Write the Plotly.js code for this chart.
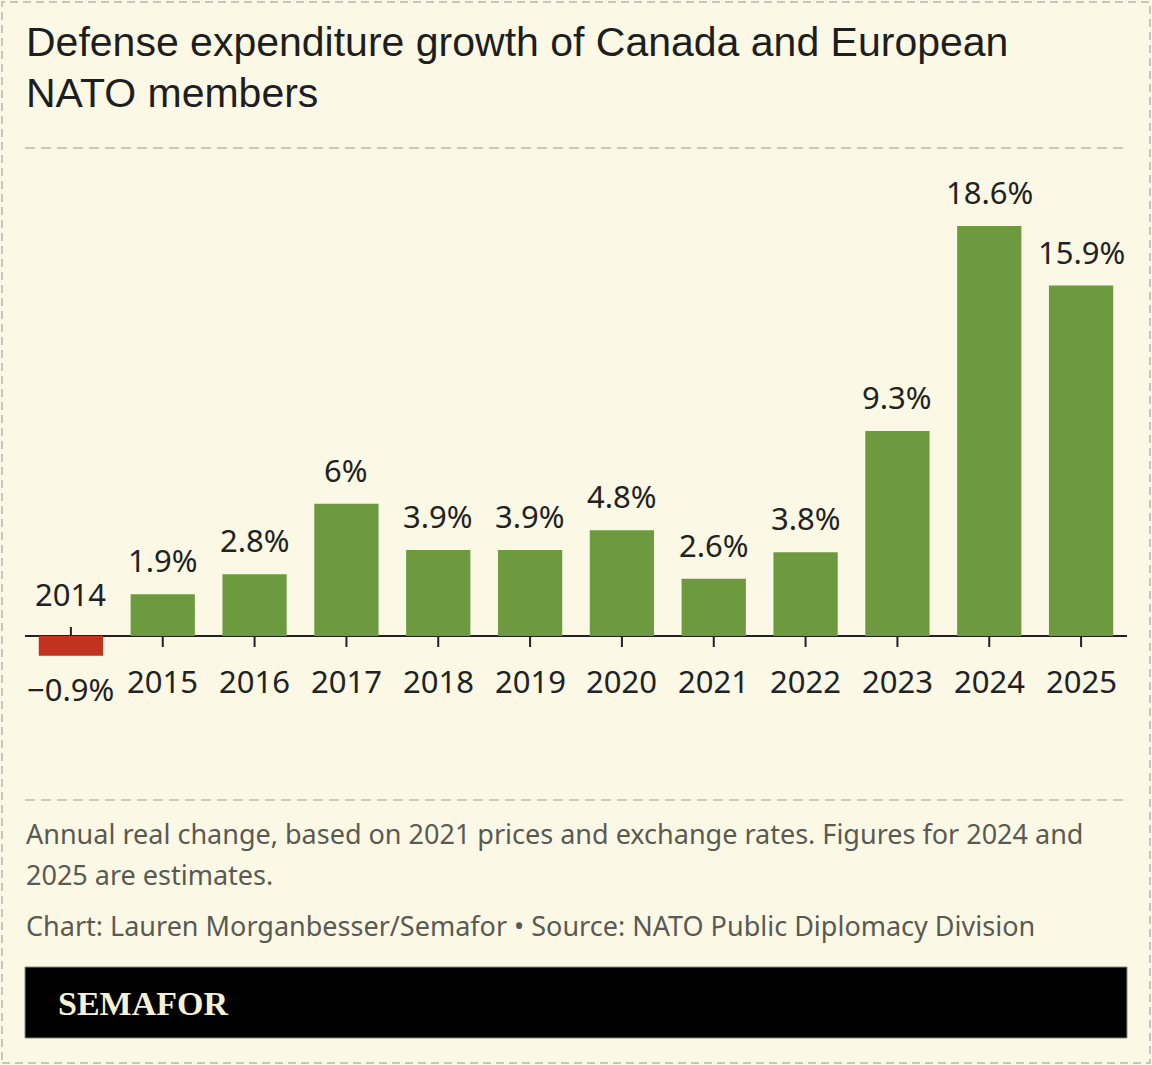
<!DOCTYPE html>
<html>
<head>
<meta charset="utf-8">
<script src="https://cdn.plot.ly/plotly-3.0.1.min.js"></script>
<style>
  html, body { margin: 0; padding: 0; background: #FBF9E6; }
  #chart { width: 1152px; height: 1065px; }
</style>
</head>
<body>
<div id="chart"></div>
<script>
// Annual real change in defense spending, Canada + European NATO members (%)
const years = ['2014', '2015', '2016', '2017', '2018', '2019', '2020', '2021', '2022', '2023', '2024', '2025'];
const growth = [-0.9, 1.9, 2.8, 6, 3.9, 3.9, 4.8, 2.6, 3.8, 9.3, 18.6, 15.9];

const titleLines = ['Defense expenditure growth of Canada and European', 'NATO members'];
const noteLines = [
  'Annual real change, based on 2021 prices and exchange rates. Figures for 2024 and',
  '2025 are estimates.',
  'Chart: Lauren Morganbesser/Semafor \u2022 Source: NATO Public Diplomacy Division'
];
const brand = 'SEMAFOR';

// Page geometry (pixels) and helpers to place paper-referenced items
const W = 1152, H = 1065;
const M = { l: 25, r: 25, t: 160, b: 365 };
const plotW = W - M.l - M.r, plotH = H - M.t - M.b;
const px = x => (x - M.l) / plotW;
const py = y => (H - M.b - y) / plotH;

const GREEN = '#6E9A3F', RED = '#C1331F', INK = '#222222', GREY = '#5A5A52';
const BODY = 'Noto Sans, sans-serif';

const fmt = v => (v < 0 ? '\u2212' : '') + Math.abs(v) + '%';

const bars = {
  type: 'bar',
  x: years,
  y: growth,
  marker: { color: growth.map(v => v < 0 ? RED : GREEN), line: { width: 0 } },
  hoverinfo: 'skip'
};

// Category positions are referenced by index (year names look numeric)
const annotations = [];
years.forEach((yr, i) => {
  const v = growth[i];
  // Value label just beyond the bar's end
  annotations.push({
    x: i, y: v, xref: 'x', yref: 'y', text: fmt(v), showarrow: false,
    xanchor: 'center', yanchor: 'middle', yshift: v < 0 ? -33 : 34,
    font: { family: BODY, size: 31, color: INK }
  });
  // Year label on the opposite side of the zero line from the bar
  annotations.push({
    x: i, y: 0, xref: 'x', yref: 'y', text: yr, showarrow: false,
    xanchor: 'center', yanchor: 'middle', yshift: v < 0 ? 42 : -45,
    font: { family: BODY, size: 31, color: INK }
  });
});

// Headline
titleLines.forEach((t, i) => {
  annotations.push({
    x: px(24), y: py(i === 0 ? 42 : 93), xref: 'paper', yref: 'paper', text: t,
    showarrow: false, xanchor: 'left', yanchor: 'middle',
    font: { family: 'Liberation Sans, Arial, sans-serif', size: 41, color: '#1E1E1E' }
  });
});

// Notes and credit
const noteY = [833, 874, 925];
noteLines.forEach((t, i) => {
  annotations.push({
    x: px(24), y: py(noteY[i]), xref: 'paper', yref: 'paper', text: t,
    showarrow: false, xanchor: 'left', yanchor: 'middle',
    font: { family: BODY, size: 27, color: GREY }
  });
});

// Brand bar text
annotations.push({
  x: px(56), y: py(1003), xref: 'paper', yref: 'paper', text: '<b>' + brand + '</b>',
  showarrow: false, xanchor: 'left', yanchor: 'middle',
  font: { family: 'Liberation Serif, DejaVu Serif, serif', size: 34, color: '#F6F0D6' }
});

const shapes = [];
// Tick marks at each category, pointing away from the bar
years.forEach((yr, i) => {
  shapes.push({
    type: 'line', xref: 'x', yref: 'y', ysizemode: 'pixel', yanchor: 0,
    x0: i, x1: i, y0: 0, y1: growth[i] < 0 ? 9 : -11,
    line: { color: INK, width: 2 }
  });
});
// Dashed separators
[148, 800].forEach(y => {
  shapes.push({
    type: 'line', xref: 'paper', yref: 'paper',
    x0: px(25), x1: px(1127), y0: py(y), y1: py(y),
    line: { color: '#CBC9BD', width: 2, dash: '10px,6px' }
  });
});
// Outer dashed frame
shapes.push({
  type: 'rect', xref: 'paper', yref: 'paper',
  x0: px(2), x1: px(1150), y0: py(1063), y1: py(2),
  line: { color: '#C9C7BB', width: 2, dash: '8px,5px' }, fillcolor: 'rgba(0,0,0,0)'
});
// Brand bar
shapes.push({
  type: 'rect', xref: 'paper', yref: 'paper',
  x0: px(25), x1: px(1127), y0: py(1038), y1: py(967),
  line: { color: '#8A8A80', width: 1 }, fillcolor: '#000000', layer: 'below'
});

const layout = {
  width: W, height: H,
  margin: M,
  paper_bgcolor: '#FBF9E6',
  plot_bgcolor: 'rgba(0,0,0,0)',
  showlegend: false,
  bargap: 0.3,
  xaxis: {
    type: 'category', range: [-0.5, 11.5],
    showticklabels: false, ticks: '', showgrid: false, showline: false, zeroline: false,
    fixedrange: true
  },
  yaxis: {
    range: [-2.904, 21.6],
    showticklabels: false, ticks: '', showgrid: false, showline: false,
    zeroline: true, zerolinecolor: INK, zerolinewidth: 2,
    fixedrange: true
  },
  annotations: annotations,
  shapes: shapes
};

Plotly.newPlot('chart', [bars], layout, { staticPlot: true, displayModeBar: false });
</script>
</body>
</html>
